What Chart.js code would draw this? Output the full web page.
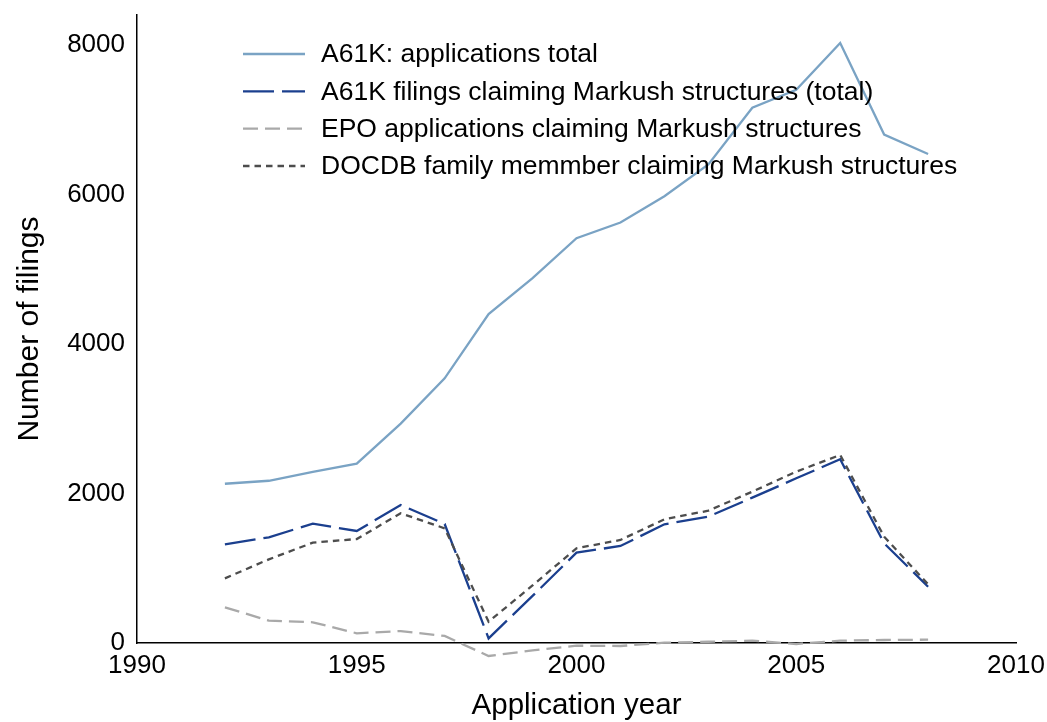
<!DOCTYPE html>
<html>
<head>
<meta charset="utf-8">
<script src="https://cdn.jsdelivr.net/npm/chart.js@4"></script>
<style>
  html, body { margin: 0; padding: 0; background: #fff; }
  #wrap { width: 1047px; height: 722px; }
</style>
</head>
<body>
<div id="wrap"><canvas id="line-chart" width="1047" height="722"></canvas></div>
<script>
// values
const years = [1992, 1993, 1994, 1995, 1996, 1997, 1998, 1999, 2000, 2001, 2002, 2003, 2004, 2005, 2006, 2007, 2008];
const appsTotal = [2130, 2170, 2290, 2400, 2935, 3540, 4400, 4880, 5415, 5625, 5975, 6400, 7160, 7400, 8025, 6800, 6540];
const markushA61K = [1320, 1414, 1596, 1498, 1846, 1592, 62, 630, 1208, 1298, 1588, 1690, 1944, 2203, 2457, 1333, 753];
const epoMarkush = [477, 299, 277, 130, 160, 94, -174, -100, -36, -40, 4, 17, 31, -13, 31, 40, 44];
const docdbMarkush = [865, 1119, 1342, 1391, 1735, 1534, 285, 770, 1267, 1378, 1655, 1770, 2024, 2292, 2515, 1422, 785];
const seriesLabels = [
    'A61K: applications total',
    'A61K filings claiming Markush structures (total)',
    'EPO applications claiming Markush structures',
    'DOCDB family memmber claiming Markush structures'
];
const xTicks = [1990, 1995, 2000, 2005, 2010];
const yTicks = [0, 2000, 4000, 6000, 8000];

const FONT = "'Liberation Sans', Arial, sans-serif";

function toPoints(values) {
    return years.map((y, i) => ({x: y, y: values[i]}));
}

const styles = [
    {color: '#7aa3c4', dash: []},
    {color: '#1b3f8e', dash: [31, 8]},
    {color: '#a9a9a9', dash: [15, 7]},
    {color: '#4d4d4d', dash: [6.5, 5]}
];

const allSeries = [appsTotal, markushA61K, epoMarkush, docdbMarkush];

// legend drawn inside the plot, top left
const innerLegend = {
    id: 'innerLegend',
    afterDraw(chart) {
        const ctx = chart.ctx;
        ctx.save();
        ctx.font = '26.5px ' + FONT;
        ctx.textBaseline = 'middle';
        ctx.fillStyle = '#000';
        ctx.lineWidth = 2.3;
        const rows = [54, 91.3, 128.6, 166];
        seriesLabels.forEach((label, i) => {
            const y = rows[i];
            ctx.strokeStyle = styles[i].color;
            ctx.setLineDash(styles[i].dash);
            ctx.beginPath();
            ctx.moveTo(243, y);
            ctx.lineTo(305, y);
            ctx.stroke();
            ctx.fillText(label, 321, y + 1);
        });
        ctx.restore();
    }
};

const data = {
    datasets: allSeries.map((vals, i) => ({
        label: seriesLabels[i],
        data: toPoints(vals),
        borderColor: styles[i].color,
        backgroundColor: styles[i].color,
        borderDash: styles[i].dash,
        borderWidth: 2.3,
        pointRadius: 0,
        tension: 0,
        clip: false,
        order: 4 - i
    }))
};

const config = {
    type: 'line',
    data,
    options: {
        responsive: false,
        animation: false,
        devicePixelRatio: 1,
        layout: {
            padding: {top: 15, right: 31, bottom: 0, left: 0}
        },
        plugins: {
            legend: {display: false},
            tooltip: {enabled: false}
        },
        scales: {
            x: {
                type: 'linear',
                min: 1990,
                max: 2010,
                afterBuildTicks: (scale) => {
                    scale.ticks = xTicks.map(v => ({value: v}));
                },
                afterFit: (scale) => {
                    scale.height = 79;
                    scale.paddingLeft = 0;
                    scale.paddingRight = 0;
                },
                grid: {display: false, drawTicks: false},
                border: {display: true, color: '#000', width: 1.5},
                ticks: {
                    color: '#000',
                    font: {family: FONT, size: 26},
                    padding: 7,
                    maxRotation: 0,
                    autoSkip: false,
                    callback: (v) => String(v)
                },
                title: {
                    display: true,
                    text: 'Application year',
                    color: '#000',
                    font: {family: FONT, size: 29.5},
                    padding: {top: 0, bottom: -2}
                }
            },
            y: {
                min: 0,
                max: 8400,
                afterBuildTicks: (scale) => {
                    scale.ticks = yTicks.map(v => ({value: v}));
                },
                afterFit: (scale) => {
                    scale.width = 137;
                    scale.paddingTop = 0;
                    scale.paddingBottom = 0;
                },
                grid: {display: false, drawTicks: false},
                border: {display: true, color: '#000', width: 1.5},
                ticks: {
                    color: '#000',
                    font: {family: FONT, size: 26},
                    padding: 12,
                    autoSkip: false,
                    callback: (v) => String(v)
                },
                title: {
                    display: true,
                    text: 'Number of filings',
                    color: '#000',
                    font: {family: FONT, size: 30},
                    padding: {top: 12, bottom: 0}
                }
            }
        }
    },
    plugins: [innerLegend]
};

new Chart(document.getElementById('line-chart'), config);
</script>
</body>
</html>
